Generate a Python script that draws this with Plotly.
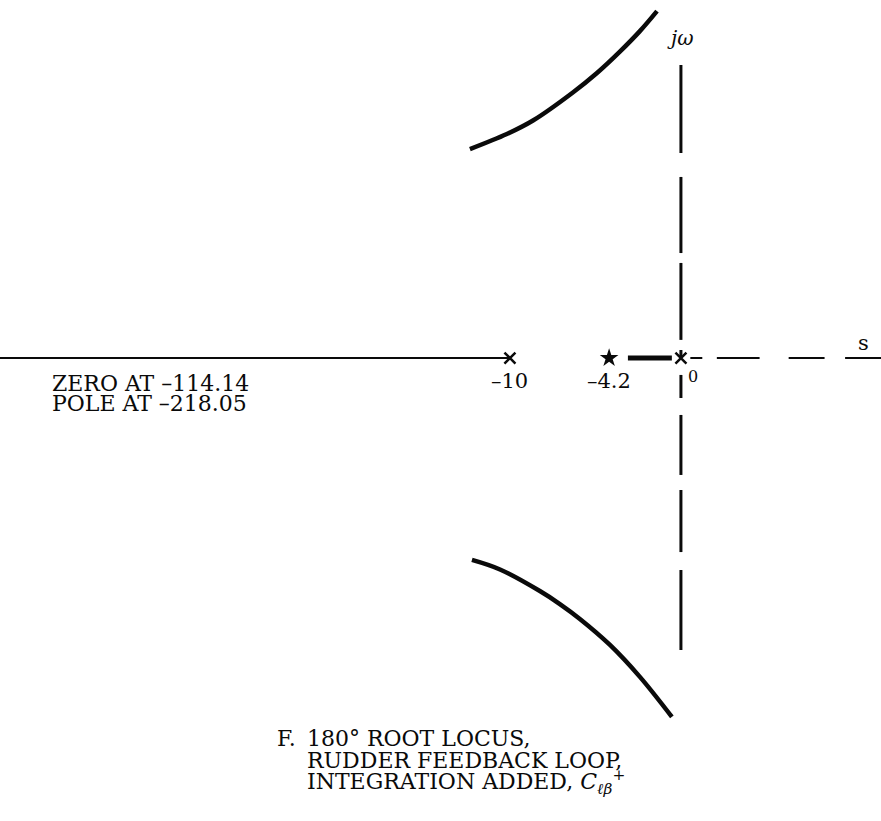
import plotly.graph_objects as go

# Open-loop singularities on the real axis (s-plane units)
cross_s = [-10.0, 0.0]
cross_labels = ["\u201310", "0"]
star_s = [-4.2]
star_labels = ["\u20134.2"]

# Complex branches of the locus (sigma, omega)
upper_s = [-12.34, -10.18, -8.65, -6.32, -4.91, -3.57, -2.40, -1.40]
upper_w = [12.22, 13.10, 13.89, 15.53, 16.67, 17.92, 19.12, 20.29]
lower_s = [-12.22, -10.58, -8.25, -7.08, -5.91, -4.15, -2.40, -0.53]
lower_w = [-11.81, -12.37, -13.63, -14.39, -15.26, -16.78, -18.65, -20.99]

# Real-axis locus segment between the star and the origin
real_seg = [-3.10, -0.53]

# Axis extents and dashed pieces
x_range = [-39.82, 11.70]
y_range = [-27.08, 20.94]
left_axis = [-39.82, -10.0]
axis_dash_s = [(0.55, 1.25), (2.1, 4.6), (6.3, 8.4), (9.6, 11.7)]
jw_dash_w = [(17.14, 11.99), (10.59, 6.14), (5.56, 1.06), (0.47, 0.0),
             (-0.99, -2.34), (-3.33, -6.84), (-7.72, -11.35), (-12.40, -17.08)]

SERIF = "DejaVu Serif"
INK = "#0a0a0a"


def pieces(spans, fixed, horizontal):
    xs, ys = [], []
    for a, b in spans:
        if horizontal:
            xs += [a, b, None]
            ys += [fixed, fixed, None]
        else:
            xs += [fixed, fixed, None]
            ys += [a, b, None]
    return xs, ys


fig = go.Figure()

# real axis, solid to the left of -10
fig.add_trace(go.Scatter(x=left_axis, y=[0, 0], mode="lines",
                         line=dict(color=INK, width=2), hoverinfo="skip"))
# dashed real axis to the right of the origin
dx, dy = pieces(axis_dash_s, 0, True)
fig.add_trace(go.Scatter(x=dx, y=dy, mode="lines",
                         line=dict(color=INK, width=2), hoverinfo="skip"))
# dashed jw axis
vx, vy = pieces(jw_dash_w, 0, False)
fig.add_trace(go.Scatter(x=vx, y=vy, mode="lines",
                         line=dict(color=INK, width=3), hoverinfo="skip"))
# heavy real-axis locus segment
fig.add_trace(go.Scatter(x=real_seg, y=[0, 0], mode="lines",
                         line=dict(color=INK, width=5), hoverinfo="skip"))
# complex branches
fig.add_trace(go.Scatter(x=upper_s, y=upper_w, mode="lines",
                         line=dict(color=INK, width=4.5, shape="spline"), hoverinfo="skip"))
fig.add_trace(go.Scatter(x=lower_s, y=lower_w, mode="lines",
                         line=dict(color=INK, width=4.5, shape="spline"), hoverinfo="skip"))
# poles
fig.add_trace(go.Scatter(x=cross_s, y=[0] * len(cross_s), mode="markers",
                         marker=dict(symbol="x-thin", size=11,
                                     line=dict(color=INK, width=2.5)),
                         hoverinfo="skip"))
fig.add_trace(go.Scatter(x=star_s, y=[0] * len(star_s), mode="markers",
                         marker=dict(symbol="star", size=14, color=INK),
                         hoverinfo="skip"))

ann = []


def label(text, x, y, xref="x", yref="paper", size=22, xanchor="center", **kw):
    ann.append(dict(text=text, x=x, y=y, xref=xref, yref=yref, showarrow=False,
                    xanchor=xanchor, yanchor="middle",
                    font=dict(family=SERIF, size=size, color=INK), **kw))


H = 821.0
W = 881.0
label(cross_labels[0], cross_s[0], 1 - 381 / H, size=21)
label(star_labels[0], star_s[0], 1 - 381 / H, size=21)
label(cross_labels[1], cross_s[1], 1 - 376 / H, size=16, xanchor="left", xshift=5)
label("<i>j\u03c9</i>", cross_s[1], 1 - 38 / H, size=20)
label("s", 863 / W, 1 - 343 / H, xref="paper", size=21)
label("ZERO AT \u2013114.14", 50 / W, 1 - 383 / H, xref="paper", xanchor="left")
label("POLE AT \u2013218.05", 50 / W, 1 - 403 / H, xref="paper", xanchor="left")
label("F.", 275 / W, 1 - 738 / H, xref="paper", xanchor="left")
label("180\u00b0 ROOT LOCUS,", 305 / W, 1 - 738 / H, xref="paper", xanchor="left")
label("RUDDER FEEDBACK LOOP,", 305 / W, 1 - 760 / H, xref="paper", xanchor="left")
label("INTEGRATION ADDED, <i>C</i><sub><i>\u2113\u03b2</i></sub><sup>+</sup>",
      305 / W, 1 - 782 / H, xref="paper", xanchor="left")

fig.update_layout(
    width=881, height=821,
    margin=dict(l=0, r=0, t=0, b=0),
    paper_bgcolor="white", plot_bgcolor="white",
    showlegend=False,
    xaxis=dict(range=x_range, visible=False, fixedrange=True),
    yaxis=dict(range=y_range, visible=False, fixedrange=True),
    annotations=ann,
)

fig.write_html("out.html")
